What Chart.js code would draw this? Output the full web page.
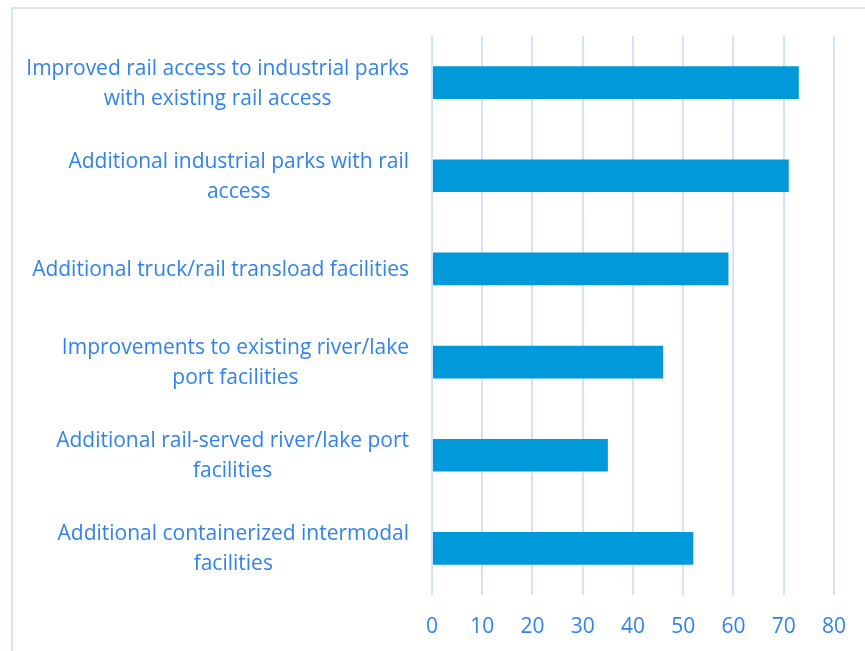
<!DOCTYPE html>
<html>
<head>
<meta charset="utf-8">
<script src="https://cdn.jsdelivr.net/npm/chart.js@4"></script>
<style>
  html, body { margin: 0; padding: 0; background: #fff; overflow: hidden; }
  #wrap { position: relative; width: 865px; height: 651px; }
  /* outer frame, runs off the right and bottom edges */
  #frame { position: absolute; left: 11px; top: 7px; width: 900px; height: 700px;
           border: 2px solid #d9e3f7; box-sizing: border-box; }
  #viz { position: absolute; left: 0; top: 0; }
</style>
</head>
<body>
<div id="wrap">
  <div id="frame"></div>
  <canvas id="viz" width="865" height="651"></canvas>
</div>
<script>
// categories, top to bottom
const categories = [
  ['Improved rail access to industrial parks', 'with existing rail access'],
  ['Additional industrial parks with rail', 'access'],
  ['Additional truck/rail transload facilities'],
  ['Improvements to existing river/lake', 'port facilities'],
  ['Additional rail-served river/lake port', 'facilities'],
  ['Additional containerized intermodal', 'facilities']
];
const values = [73, 71, 59, 46, 35, 52];
const xTicks = [0, 10, 20, 30, 40, 50, 60, 70, 80];

const TEXT = '#3082f0';
const FONT = '"Open Sans", Lato, sans-serif';

// category labels: block right-aligned against the axis, lines centered inside the block
const labelPlugin = {
  id: 'blockLabels',
  afterDraw(chart) {
    const { ctx } = chart;
    const y = chart.scales.y;
    const right = 409, lineH = 30;
    ctx.save();
    ctx.font = `21px ${FONT}`;
    ctx.fillStyle = TEXT;
    ctx.textAlign = 'center';
    ctx.textBaseline = 'middle';
    categories.forEach((lines, i) => {
      const cy = y.getPixelForValue(i) + 1;
      const w = Math.max(...lines.map(l => ctx.measureText(l).width));
      const cx = right - w / 2;
      lines.forEach((l, j) => {
        ctx.fillText(l, cx, cy + (j - (lines.length - 1) / 2) * lineH);
      });
    });
    ctx.restore();
  }
};

new Chart(document.getElementById('viz').getContext('2d'), {
  type: 'bar',
  data: {
    labels: categories.map(c => c.join(' ')),
    datasets: [{
      data: values,
      backgroundColor: '#009ada',
      borderWidth: 0,
      barPercentage: 0.35,
      categoryPercentage: 1
    }]
  },
  options: {
    indexAxis: 'y',
    responsive: false,
    animation: false,
    layout: { padding: { left: 432, right: 31, top: 36, bottom: 0 } },
    plugins: { legend: { display: false }, tooltip: { enabled: false } },
    scales: {
      x: {
        min: 0, max: 80,
        afterBuildTicks: s => { s.ticks = xTicks.map(v => ({ value: v })); },
        afterFit: s => { s.height = 56; },
        grid: { color: '#d3e1fa', lineWidth: 2, drawTicks: false },
        border: { display: false },
        ticks: { color: TEXT, font: { family: FONT, size: 21 }, padding: 19 }
      },
      y: { display: false }
    }
  },
  plugins: [labelPlugin]
});
</script>
</body>
</html>
